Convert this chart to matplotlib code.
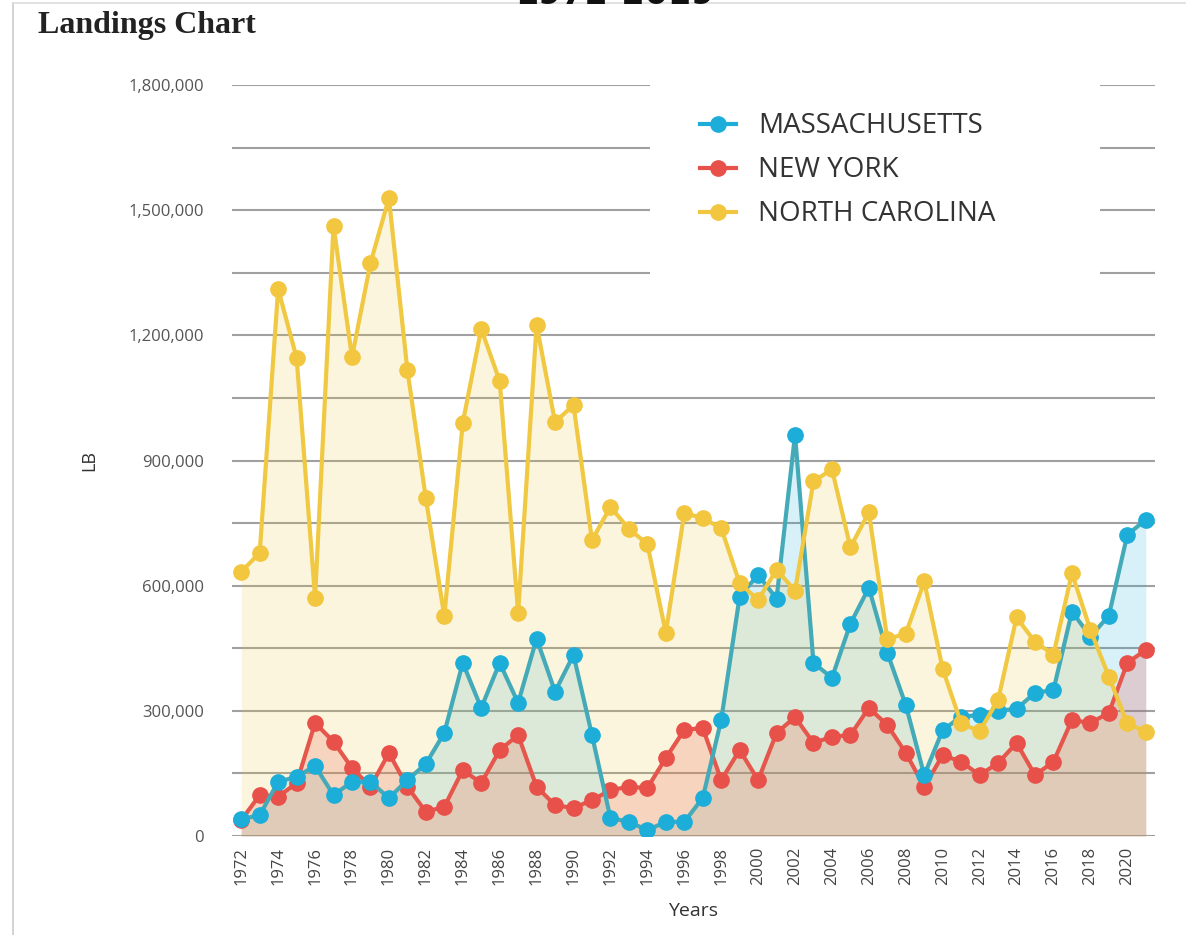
import numpy as np
import matplotlib.pyplot as plt
from matplotlib.lines import Line2D
from matplotlib.patches import Rectangle
from matplotlib.ticker import MultipleLocator, FuncFormatter

years = list(range(1972, 2022))

massachusetts = [
    40000, 50000, 130000, 142000, 168000, 98000, 130000, 130000, 91000, 134000,
    173000, 247000, 415000, 307000, 415000, 319000, 473000, 346000, 434000, 242000,
    43000, 34000, 14000, 34000, 34000, 91000, 278000, 574000, 626000, 569000,
    962000, 415000, 379000, 509000, 595000, 439000, 314000, 146000, 254000, 286000,
    290000, 300000, 305000, 343000, 350000, 538000, 478000, 528000, 722000, 758000,
]
new_york = [
    38000, 98000, 94000, 127000, 271000, 226000, 163000, 118000, 199000, 118000,
    58000, 70000, 158000, 127000, 206000, 242000, 118000, 74000, 67000, 86000,
    110000, 118000, 115000, 187000, 254000, 259000, 134000, 206000, 134000, 247000,
    285000, 223000, 238000, 242000, 307000, 266000, 199000, 118000, 194000, 178000,
    146000, 175000, 223000, 146000, 178000, 278000, 271000, 295000, 415000, 446000,
]
north_carolina = [
    633000, 679000, 1311000, 1146000, 571000, 1462000, 1148000, 1373000, 1529000, 1117000,
    810000, 527000, 990000, 1215000, 1091000, 535000, 1225000, 992000, 1033000, 709000,
    789000, 736000, 700000, 487000, 774000, 762000, 738000, 606000, 566000, 638000,
    588000, 850000, 879000, 692000, 776000, 472000, 485000, 610000, 400000, 270000,
    251000, 326000, 524000, 465000, 435000, 630000, 494000, 382000, 270000, 250000,
]

series = [
    ('MASSACHUSETTS', massachusetts, '#45aab8', '#1cadd8', 0.17, 3),
    ('NEW YORK', new_york, '#e5574d', '#e8504a', 0.22, 2),
    ('NORTH CAROLINA', north_carolina, '#f0c842', '#f3c640', 0.17, 4),
]

plt.rcParams['font.family'] = ['Open Sans', 'DejaVu Sans']

fig = plt.figure(figsize=(11.86, 9.35), dpi=100)
ax = fig.add_axes([232 / 1186, 1 - 836 / 935, 923 / 1186, 751 / 935])

for name, vals, lc, mc, a, z in series:
    ax.fill_between(years, vals, 0, color=mc, alpha=a, lw=0, zorder=1)
    ax.plot(years, vals, color=lc, lw=3, marker='o', markersize=11,
            markerfacecolor=mc, markeredgecolor=mc, zorder=z)

ax.set_xlim(1971.5, 2021.5)
ax.set_ylim(0, 1800000)
ax.yaxis.set_major_locator(MultipleLocator(300000))
ax.yaxis.set_minor_locator(MultipleLocator(150000))
ax.yaxis.set_major_formatter(FuncFormatter(lambda v, p: f'{int(v):,}'))
ax.set_xticks(range(1972, 2021, 2))
ax.tick_params(axis='x', labelrotation=90, labelsize=12, colors='#444444', length=0, pad=8)
ax.tick_params(axis='y', which='both', labelsize=12, colors='#555555', length=0, pad=20)
ax.grid(axis='y', which='both', color='#a0a0a0', lw=1.5, zorder=0)
ax.set_axisbelow(True)
for s in ax.spines.values():
    s.set_visible(False)

ax.set_ylabel('LB', fontsize=13, color='#333333', labelpad=22)
ax.set_xlabel('Years', fontsize=14, color='#333333', labelpad=12)

# white panel behind the legend, hides the gridlines there
ax.add_patch(Rectangle((0.453, 0.73), 0.487, 0.285, transform=ax.transAxes,
                       facecolor='white', edgecolor='none', zorder=0.9, clip_on=False))
handles = [Line2D([], [], color=mc, lw=3, marker='o', markersize=11) for _, _, _, mc, _, _ in series]
ax.legend(handles, [s[0] for s in series], loc='upper left', bbox_to_anchor=(0.48, 0.997),
          frameon=False, fontsize=20, handlelength=1.3, handletextpad=0.8,
          labelspacing=0.58, labelcolor='#333333')

fig.text(38 / 1186, 1 - 25 / 935, 'Landings Chart', fontsize=23, fontweight='bold',
         family='Liberation Serif', color='#222222', va='center', ha='left')
fig.text(615 / 1186, 1 - 4 / 935, '1972-2019', fontsize=24, fontweight='bold',
         family='DejaVu Sans', color='#111111', va='baseline', ha='center')

fig.add_artist(Line2D([13 / 1186, 13 / 1186], [0, 1 - 3 / 935], color='#cccccc', lw=1.2))
fig.add_artist(Line2D([13 / 1186, 1], [1 - 3 / 935, 1 - 3 / 935], color='#dddddd', lw=1.2))

fig.savefig('out.png', dpi=100)
